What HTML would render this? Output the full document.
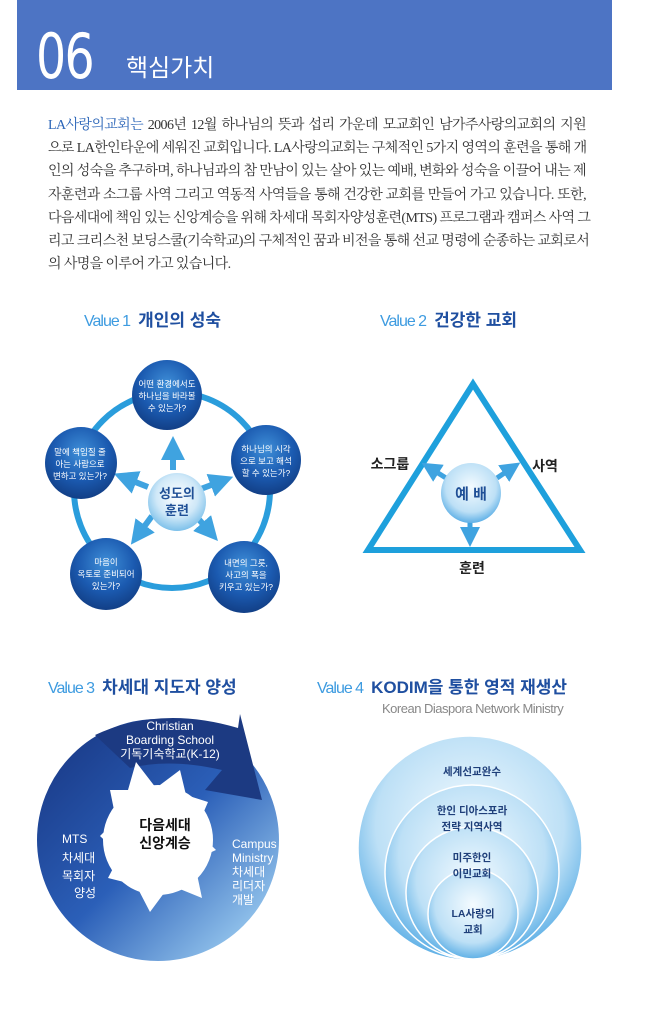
<!DOCTYPE html>
<html><head><meta charset="utf-8"><style>
*{margin:0;padding:0}
body{width:660px;height:1020px;position:relative;background:#fff;overflow:hidden;font-family:"Liberation Sans","Noto Sans CJK KR",sans-serif}
.hdr{position:absolute;left:17px;top:0;width:595px;height:90px;background:#4d74c4}
.num{position:absolute;left:36px;top:20px;font-size:62px;color:#fff;font-family:"DejaVu Sans Condensed","Liberation Sans Narrow",sans-serif;letter-spacing:-2px;transform:scaleX(0.85);transform-origin:left}
.ttl{position:absolute;left:126px;top:48px;font-size:24px;color:#fff}
.para{position:absolute;left:48px;top:114px;width:538px;font-family:"Liberation Serif","Noto Serif CJK KR","Noto Serif CJK SC",serif;font-size:14px;color:#333;letter-spacing:-0.6px}
.para div{height:23.2px;line-height:23px;text-align:justify;text-align-last:justify;white-space:nowrap}
.para div.last{text-align-last:left}
.lb{color:#2b65b8}
.vt{position:absolute;font-size:17px;white-space:nowrap}
.vt .v{color:#3d9be0;letter-spacing:-1px;font-size:16px}
.vt b{color:#1f4fa0;margin-left:8px}
</style></head><body>
<div class="hdr"></div>
<div class="num">06</div>
<div class="ttl">핵심가치</div>
<div class="para">
<div><span class="lb">LA사랑의교회는</span> 2006년 12월 하나님의 뜻과 섭리 가운데 모교회인 남가주사랑의교회의 지원</div>
<div>으로 LA한인타운에 세워진 교회입니다. LA사랑의교회는 구체적인 5가지 영역의 훈련을 통해 개</div>
<div>인의 성숙을 추구하며, 하나님과의 참 만남이 있는 살아 있는 예배, 변화와 성숙을 이끌어 내는 제</div>
<div>자훈련과 소그룹 사역 그리고 역동적 사역들을 통해 건강한 교회를 만들어 가고 있습니다. 또한,</div>
<div>다음세대에 책임 있는 신앙계승을 위해 차세대 목회자양성훈련(MTS) 프로그램과 캠퍼스 사역 그</div>
<div>리고 크리스천 보딩스쿨(기숙학교)의 구체적인 꿈과 비전을 통해 선교 명령에 순종하는 교회로서</div>
<div class="last">의 사명을 이루어 가고 있습니다.</div>
</div>
<div class="vt" style="left:84px;top:306px"><span class="v">Value 1</span><b>개인의 성숙</b></div>
<div class="vt" style="left:380px;top:306px"><span class="v">Value 2</span><b>건강한 교회</b></div>
<div class="vt" style="left:48px;top:673px"><span class="v">Value 3</span><b>차세대 지도자 양성</b></div>
<div class="vt" style="left:317px;top:673px"><span class="v">Value 4</span><b>KODIM을 통한 영적 재생산</b></div>
<div style="position:absolute;left:382px;top:701px;font-size:13px;color:#888;letter-spacing:-0.5px">Korean Diaspora Network Ministry</div>

<svg width="660" height="1020" style="position:absolute;left:0;top:0" xmlns="http://www.w3.org/2000/svg">
<defs>
<radialGradient id="bb" cx="50%" cy="35%" r="65%"><stop offset="0" stop-color="#3f8fd8"/><stop offset="0.6" stop-color="#1b5ab0"/><stop offset="1" stop-color="#123f86"/></radialGradient>
<radialGradient id="lb" cx="50%" cy="40%" r="60%"><stop offset="0" stop-color="#ffffff"/><stop offset="0.6" stop-color="#cfe8f8"/><stop offset="1" stop-color="#7cc0ea"/></radialGradient>
<radialGradient id="sp" cx="50%" cy="40%" r="60%"><stop offset="0" stop-color="#f4fbff"/><stop offset="0.7" stop-color="#bde0f6"/><stop offset="1" stop-color="#5fb0e6"/></radialGradient>
<linearGradient id="rg" x1="0" y1="0" x2="1" y2="1"><stop offset="0" stop-color="#1c3f8e"/><stop offset="0.5" stop-color="#2b5fb8"/><stop offset="1" stop-color="#8fc0ea"/></linearGradient>
<marker id="ah" markerWidth="4" markerHeight="4" refX="2" refY="2" orient="auto" markerUnits="strokeWidth"><path d="M0,0 L4,2 L0,4 z" fill="#3fa3e0"/></marker>
</defs>
<!-- Value 1 -->
<circle cx="172" cy="490" r="98" fill="none" stroke="#2a9ddc" stroke-width="6"/>
<g stroke="#3fa3e0" stroke-width="6" marker-end="url(#ah)">
<line x1="173" y1="470" x2="173" y2="448"/>
<line x1="198" y1="490" x2="222" y2="481"/>
<line x1="195" y1="515" x2="210" y2="532"/>
<line x1="152" y1="516" x2="138" y2="535"/>
<line x1="148" y1="487" x2="125" y2="478"/>
</g>
<g fill="url(#bb)">
<circle cx="167" cy="395" r="35"/><circle cx="266" cy="460" r="35"/><circle cx="244" cy="577" r="36"/><circle cx="106" cy="574" r="36"/><circle cx="81" cy="463" r="36"/>
</g>
<circle cx="177" cy="502" r="29" fill="url(#lb)"/>
<g fill="#fff" font-size="8.5" text-anchor="middle">
<text x="167" y="387">어떤 환경에서도</text><text x="167" y="399">하나님을 바라볼</text><text x="167" y="411">수 있는가?</text>
<text x="266" y="452">하나님의 시각</text><text x="266" y="464">으로 보고 해석</text><text x="266" y="476">할 수 있는가?</text>
<text x="246" y="566">내면의 그릇,</text><text x="246" y="578">사고의 폭을</text><text x="246" y="590">키우고 있는가?</text>
<text x="106" y="565">마음이</text><text x="106" y="577">옥토로 준비되어</text><text x="106" y="589">있는가?</text>
<text x="80" y="455">말에 책임질 줄</text><text x="80" y="467">아는 사람으로</text><text x="80" y="479">변하고 있는가?</text>
</g>
<g fill="#1f4f96" font-size="13" font-weight="bold" text-anchor="middle"><text x="177" y="498">성도의</text><text x="177" y="515">훈련</text></g>
<!-- Value 2 -->
<polygon points="473,384 368,550 580,550" fill="none" stroke="#1ea0dc" stroke-width="6" stroke-linejoin="miter"/>
<g stroke="#3fa3e0" stroke-width="5" marker-end="url(#ah)">
<line x1="446" y1="478" x2="430" y2="468"/>
<line x1="497" y1="478" x2="512" y2="468"/>
<line x1="470" y1="520" x2="470" y2="537"/>
</g>
<circle cx="471" cy="493" r="30" fill="url(#sp)"/>
<text x="471" y="499" font-size="15" font-weight="bold" fill="#1f4f96" text-anchor="middle">예 배</text>
<g font-size="14" font-weight="bold" fill="#222" text-anchor="middle"><text x="390" y="469">소그룹</text><text x="545" y="471">사역</text><text x="472" y="573">훈련</text></g>
<!-- Value 3 -->
<circle cx="158" cy="840" r="88" fill="none" stroke="url(#rg)" stroke-width="66"/>
<path d="M95,735 Q160,705 238,728 L240,714 L262,800 L205,790 L222,770 Q170,758 130,768 Z" fill="#1c3a82"/>
<polygon points="110,790 128,790 136,762 156,788 180,770 186,795 208,802 196,830 216,850 194,860 202,898 170,885 150,912 136,885 108,878 120,855 100,836 116,820" fill="#fff"/>
<g fill="#fff" font-size="12" text-anchor="middle">
<text x="170" y="730">Christian</text><text x="170" y="744">Boarding School</text><text x="170" y="758">기독기숙학교(K-12)</text>
</g>
<g fill="#fff" font-size="12">
<text x="62" y="843">MTS</text><text x="62" y="862">차세대</text><text x="62" y="880">목회자</text><text x="74" y="897">양성</text>
<text x="232" y="848">Campus</text><text x="232" y="862">Ministry</text><text x="232" y="876">차세대</text><text x="232" y="890">리더자</text><text x="232" y="904">개발</text>
</g>
<g font-size="14" font-weight="bold" fill="#111" text-anchor="middle"><text x="165" y="830">다음세대</text><text x="165" y="848">신앙계승</text></g>
<!-- Value 4 -->
<g stroke="#fff" stroke-width="1.5" fill="url(#sp)">
<circle cx="470" cy="848" r="112"/>
<circle cx="472" cy="872" r="87"/>
<circle cx="472" cy="893" r="66"/>
<circle cx="473" cy="914" r="45"/>
</g>
<g font-size="10.5" font-weight="bold" fill="#1f3f7a" text-anchor="middle">
<text x="472" y="775">세계선교완수</text>
<text x="472" y="814">한인 디아스포라</text><text x="472" y="830">전략 지역사역</text>
<text x="472" y="861">미주한인</text><text x="472" y="877">이민교회</text>
<text x="473" y="917">LA사랑의</text><text x="473" y="933">교회</text>
</g>
</svg>
</body></html>
